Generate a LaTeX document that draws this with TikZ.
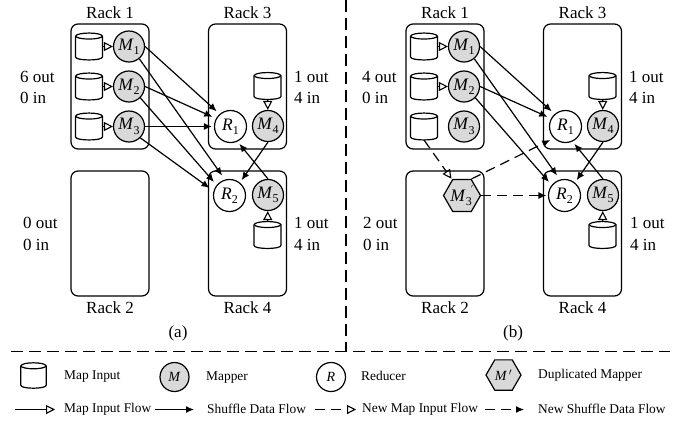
\documentclass[tikz,border=0pt]{standalone}
\usepackage{fontspec}
\setmainfont{Liberation Serif}
\usetikzlibrary{arrows.meta,shapes.geometric}
\newcommand{\mlab}[2]{\textit{#1}\raisebox{-.25em}{\fontsize{12}{12}\selectfont #2}}
\tikzset{
  rack/.style={draw,line width=1.2pt,rounded corners=7pt,minimum width=78pt,minimum height=125pt,inner sep=0pt},
  mapper/.style={circle,draw,line width=1.2pt,fill=gray!30,minimum size=31pt,inner sep=0pt,font=\fontsize{17.5}{17.5}\selectfont},
  reducer/.style={circle,draw,line width=1.2pt,fill=white,minimum size=32pt,inner sep=0pt,font=\fontsize{17.5}{17.5}\selectfont},
  hexa/.style={regular polygon,regular polygon sides=6,draw,line width=1.2pt,fill=gray!30,inner sep=0pt},
  storebox/.style={rectangle,minimum width=#1,minimum height=#1,inner sep=0pt},
  storeline/.style={line width=1.2pt,fill=white},
  big/.style={inner sep=0pt,font=\fontsize{17}{20}\selectfont},
  small/.style={inner sep=0pt,anchor=west,font=\fontsize{13.4}{16}\selectfont},
  shuffle/.style={line width=1.2pt,-{Latex[length=8pt,width=7pt]}},
  feed/.style={line width=1.2pt,-{Triangle[open,length=9pt,width=9pt,line width=1.1pt]}},
  newdash/.style={dash pattern=on 10pt off 6pt},
  divider/.style={line width=1.2pt,dash pattern=on 12pt off 6pt},
}
% #1 node name, #2 position, #3 size
\newcommand{\store}[3]{%
  \node[storebox=#3] (#1) at #2 {};
  \draw[storeline] ([yshift=-3pt]#1.north west) -- ([yshift=3pt]#1.south west)
     .. controls ([yshift=-1pt]#1.south west) and ([yshift=-1pt]#1.south east) .. ([yshift=3pt]#1.south east)
     -- ([yshift=-3pt]#1.north east);
  \draw[storeline] ([yshift=-3pt]#1.north) ellipse[x radius=#3/2,y radius=3pt];
}
\newcommand{\panel}[1]{%
  \node[rack] (#1r1) at (110,86.5) {};
  \node[rack] (#1r3) at (247.5,86.5) {};
  \node[rack] (#1r2) at (110,233.5) {};
  \node[rack] (#1r4) at (247.5,233.5) {};
  \node[big] (#1l1) at (110,13) {Rack 1};
  \node[big] (#1l3) at (247.5,13) {Rack 3};
  \node[big] (#1l2) at (110,308) {Rack 2};
  \node[big] (#1l4) at (247.5,308) {Rack 4};
  \store{#1c1}{(89,46.5)}{26.5pt}
  \store{#1c2}{(89,86.5)}{26.5pt}
  \store{#1c3}{(89,126.5)}{26.5pt}
  \store{#1c4}{(267.5,86)}{26.5pt}
  \store{#1c5}{(267.5,235)}{26.5pt}
  \node[mapper] (#1m1) at (129,46.5) {\mlab{M}{1}};
  \node[mapper] (#1m2) at (129,86.5) {\mlab{M}{2}};
  \node[mapper] (#1m3) at (129,126.5) {\mlab{M}{3}};
  \node[reducer] (#1R1) at (230.5,126.5) {\mlab{R}{1}};
  \node[mapper] (#1m4) at (268,126) {\mlab{M}{4}};
  \node[reducer] (#1R2) at (229.5,195.5) {\mlab{R}{2}};
  \node[mapper] (#1m5) at (268,195) {\mlab{M}{5}};
  \draw[feed] (#1c1) -- (#1m1);
  \draw[feed] (#1c2) -- (#1m2);
  \draw[feed] (#1c4) -- (#1m4);
  \draw[feed] (#1c5) -- (#1m5);
  \draw[shuffle,shorten >=4pt] (#1m1.0) -- (#1R1.131);
  \draw[shuffle,shorten >=4pt] (#1m2.0) -- (#1R1.151);
  \draw[shuffle,shorten >=5pt] (#1m1.-50) -- (#1R2.106);
  \draw[shuffle,shorten >=4pt] (#1m2.-45) -- (#1R2.141);
  \draw[shuffle,shorten >=3pt] (#1m4.-90) -- (#1R2.51);
  \draw[shuffle,shorten >=3pt] (#1m5.90) -- (#1R1.-65);
  \node[big,align=left,anchor=west] (#1txtr) at (294,87.5) {1 out\\[1.5pt]4 in};
}
\begin{document}
\begin{tikzpicture}[x=1pt,y=-1pt]
\useasboundingbox (0,0) rectangle (693,424);
% panel (a)
\panel{a}
\draw[feed] (ac3) -- (am3);
\draw[shuffle,shorten >=2pt] (am3.0) -- (aR1.180);
\draw[shuffle,shorten >=5pt] (am3.-45) -- (aR2.164);
\node[big,align=left,anchor=west] (atxt1) at (20,87.5) {6 out\\[1.5pt]0 in};
\node[big,align=left,anchor=west] (atxt2) at (23,234) {0 out\\[1.5pt]0 in};
\node[big,align=left,anchor=west] (atxt3) at (294,234) {1 out\\[1.5pt]4 in};
\node[big] (acap) at (178,333) {(a)};
% panel (b)
\begin{scope}[xshift=335pt]
\panel{b}
\node[hexa,minimum size=37pt,label={[inner sep=0pt,font=\fontsize{17.5}{17.5}\selectfont]center:\mlab{M}{3}\hspace{-1pt}\raisebox{.5em}{\fontsize{9}{9}\selectfont$'$}}] (bh) at (127,195.5) {};
\draw[feed,newdash,shorten >=1pt] (bc3.south) -- (bh.122);
\draw[shuffle,newdash,shorten >=4pt] (bh.60) -- (bR1.225);
\draw[shuffle,newdash,shorten >=1.5pt] (bh.0) -- (bR2.180);
\node[big,align=left,anchor=west] (btxt1) at (27,87.5) {4 out\\[1.5pt]0 in};
\node[big,align=left,anchor=west] (btxt2) at (28,234) {2 out\\[1.5pt]0 in};
\node[big,align=left,anchor=west] (btxt3) at (295,234) {1 out\\[1.5pt]4 in};
\node[big] (bcap) at (178,333) {(b)};
\end{scope}
% dividers
\coordinate (vt) at (346,0);
\coordinate (vb) at (346,351.5);
\coordinate (hl) at (11,351.5);
\coordinate (hr) at (670,351.5);
\draw[divider] (vt) -- (vb);
\draw[divider] (hl) -- (hr);
% legend
\store{lc}{(33.5,375.5)}{25pt}
\node[small] (lt1) at (64,377) {Map Input};
\node[mapper,minimum size=29pt,font=\fontsize{14}{14}\selectfont] (lm) at (174.5,377) {\textit{M}};
\node[small] (lt2) at (206,378) {Mapper};
\node[reducer,minimum size=29pt,font=\fontsize{14}{14}\selectfont] (lr) at (331,377) {\textit{R}};
\node[small] (lt3) at (361,375.5) {Reducer};
\node[hexa,minimum size=35pt,label={[inner sep=0pt,font=\fontsize{14}{14}\selectfont]center:\textit{M\,$'$}}] (lh) at (503.5,375) {};
\node[small] (lt4) at (538,375) {Duplicated Mapper};
\coordinate (a1) at (15,409.5);
\coordinate (a2) at (55,409.5);
\coordinate (b1) at (155,409.5);
\coordinate (b2) at (194,409.5);
\coordinate (c1) at (315,409.5);
\coordinate (c2) at (356,409.5);
\coordinate (d1) at (485,409.5);
\coordinate (d2) at (524,409.5);
\draw[feed] (a1) -- (a2);
\node[small] (lt5) at (64,409) {Map Input Flow};
\draw[shuffle] (b1) -- (b2);
\node[small] (lt6) at (207,409) {Shuffle Data Flow};
\draw[feed,newdash] (c1) -- (c2);
\node[small] (lt7) at (362,409) {New Map Input Flow};
\draw[shuffle,newdash] (d1) -- (d2);
\node[small] (lt8) at (538,409) {New Shuffle Data Flow};
\end{tikzpicture}
\end{document}
